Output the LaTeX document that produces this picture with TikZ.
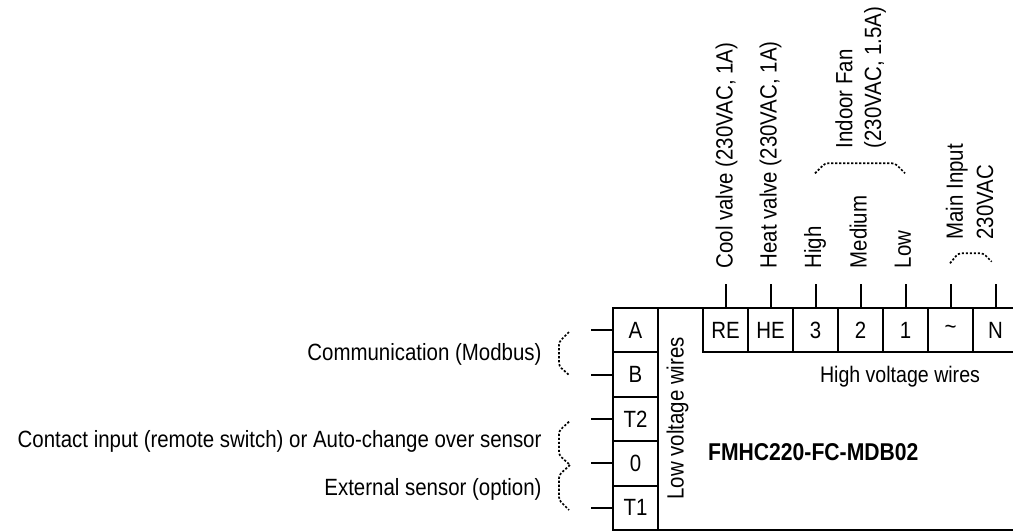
\documentclass[tikz,border=0pt]{standalone}
\usepackage{fontspec}
\setmainfont{Liberation Sans}[FakeStretch=0.87]
\begin{document}
\begin{tikzpicture}[x=1pt,y=-1pt,
  lbl/.style={font=\fontsize{23.5}{28}\selectfont, inner sep=0pt, outer sep=0pt},
  term/.style={draw, line width=2pt, minimum width=45pt, minimum height=44.4pt,
    inner sep=0pt, outer sep=0pt, font=\fontsize{23.5}{28}\selectfont},
  ttop/.style={term, minimum height=44pt},
  wire/.style={line width=2pt},
  brk/.style={line width=1.7pt, dash pattern=on 2.2pt off 1.8pt, rounded corners=3pt}
]
\useasboundingbox (0,0) rectangle (1013,531);
\clip (0,0) rectangle (1013,531);

% frame
\coordinate (ftl) at (613,308);
\coordinate (ftr) at (1020,308);
\coordinate (fbl) at (613,530);
\coordinate (fbr) at (1020,530);
\draw[wire] (ftl) -- (ftr);
\draw[wire] (fbl) -- (fbr);

% left terminal column
\node[term] (A)  at (635.5,330.2) {A};
\node[term] (B)  at (635.5,374.6) {B};
\node[term] (T2) at (635.5,419.0) {T2};
\node[term] (Z)  at (635.5,463.4) {0};
\node[term] (T1) at (635.5,507.8) {T1};

% top terminal row
\node[ttop] (RE) at (725.5,330) {RE};
\node[ttop] (HE) at (770.5,330) {HE};
\node[ttop] (F3) at (815.5,330) {3};
\node[ttop] (F2) at (860.5,330) {2};
\node[ttop] (F1) at (905.5,330) {1};
\node[ttop] (L)  at (950.5,330) {\textasciitilde};
\node[ttop] (N)  at (995.5,330) {N};

% stubs
\foreach \n in {A,B,T2,Z,T1} \draw[wire] (\n.west) -- ++(-22,0);
\foreach \n in {RE,HE,F3,F2,F1,L,N} \draw[wire] (\n.north) -- ++(0,-24);

% inner labels
\node[lbl, rotate=90] (lvw) at (677.5,418.3) {Low voltage wires};
\node[lbl, font=\fontsize{22.5}{27}\selectfont] (hvw) at (900,377) {High voltage wires};
\node[lbl, font=\bfseries\fontsize{24.3}{29}\selectfont] (model) at (813.3,451.7) {FMHC220-FC-MDB02};

% top labels
\node[lbl, rotate=90, anchor=west] (lcool) at (726.5,268.3) {Cool valve (230VAC, 1A)};
\node[lbl, rotate=90, anchor=west] (lheat) at (770.5,268.3) {Heat valve (230VAC, 1A)};
\node[lbl, rotate=90, anchor=west] (lhigh) at (815,268.3) {High};
\node[lbl, rotate=90, anchor=west] (lmed)  at (858.3,268.3) {Medium};
\node[lbl, rotate=90, anchor=west] (llow)  at (903,268.3) {Low};
\node[lbl, rotate=90, anchor=west] (lfan1) at (844,148.3) {Indoor Fan};
\node[lbl, rotate=90, anchor=west] (lfan2) at (875,148.3) {(230VAC, 1.5A)};
\node[lbl, rotate=90, anchor=west] (lmain1) at (956.7,239.5) {Main Input};
\node[lbl, rotate=90, anchor=west] (lmain2) at (985,239.5) {230VAC};

% left labels
\node[lbl, anchor=east] (lcom) at (541.5,354) {Communication (Modbus)};
\node[lbl, anchor=east] (lcon) at (541.5,441.7) {Contact input (remote switch) or Auto-change over sensor};
\node[lbl, anchor=east] (lext) at (541.5,489) {External sensor (option)};

% dotted brackets
\draw[brk] (569,332) -- (559,342) -- (559,366) -- (569,375);
\draw[brk] (569,421.7) -- (559,431) -- (559,455) -- (570,465);
\draw[brk] (570,465) -- (559,475) -- (559,500) -- (569,510);
\draw[brk] (815,173.3) -- (825,163.3) -- (895,163.3) -- (905,173.3);
\draw[brk] (950,263.3) -- (958.3,253.3) -- (983.3,253.3) -- (991.7,261.7);
\end{tikzpicture}
\end{document}
